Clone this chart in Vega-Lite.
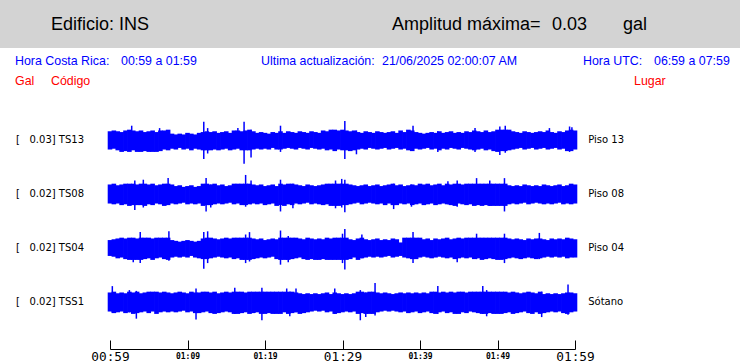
{
"$schema":"https://vega.github.io/schema/vega-lite/v6.json",
"padding":0,
"background":"white",
"config":{"view":{"stroke":null},"title":{"anchor":"start","fontWeight":"normal","frame":"group","font":"Liberation Sans","color":"black","subtitleFont":"Liberation Sans","subtitleColor":"#ff0000","subtitleFontSize":12.4,"subtitlePadding":7.6},"concat":{"spacing":0}},
"datasets":{
"vacio":[],
"trazas":[
{"c":"TS13","e":"[\u00a0\u00a0\u00a00.03] TS13","g":"Piso 13"},
{"c":"TS08","e":"[\u00a0\u00a0\u00a00.02] TS08","g":"Piso 08"},
{"c":"TS04","e":"[\u00a0\u00a0\u00a00.02] TS04","g":"Piso 04"},
{"c":"TSS1","e":"[\u00a0\u00a0\u00a00.02] TSS1","g":"Sótano"},
{"c":"TS13","k":"pico","t":2.8,"h":18,"l":-12},{"c":"TS13","k":"pico","t":6.4,"h":15,"l":-12},{"c":"TS13","k":"pico","t":12.1,"h":23,"l":-24},{"c":"TS13","k":"pico","t":12.6,"h":15,"l":-17},{"c":"TS13","k":"pico","t":16.5,"h":15,"l":-10},{"c":"TS13","k":"pico","t":17.3,"h":23,"l":-30},{"c":"TS13","k":"pico","t":18.2,"h":13,"l":-22},{"c":"TS13","k":"pico","t":22,"h":18,"l":-15},{"c":"TS13","k":"pico","t":30.3,"h":24,"l":-24},{"c":"TS13","k":"pico","t":31.8,"h":12,"l":-18},{"c":"TS13","k":"pico","t":39.1,"h":18,"l":-14},{"c":"TS13","k":"pico","t":42.3,"h":11,"l":-15},{"c":"TS13","k":"pico","t":47.1,"h":15,"l":-15},{"c":"TS13","k":"pico","t":50.3,"h":17,"l":-19},{"c":"TS13","k":"pico","t":51,"h":18,"l":-16},{"c":"TS13","k":"pico","t":56.7,"h":15,"l":-11},{"c":"TS13","k":"pico","t":59.3,"h":17,"l":-15},{"c":"TS13","k":"pico","t":59.6,"h":16,"l":-13},
{"c":"TS08","k":"pico","t":3.2,"h":17,"l":-20},{"c":"TS08","k":"pico","t":4.3,"h":18,"l":-17},{"c":"TS08","k":"pico","t":7.5,"h":20,"l":-14},{"c":"TS08","k":"pico","t":12.4,"h":20,"l":-22},{"c":"TS08","k":"pico","t":13,"h":12,"l":-17},{"c":"TS08","k":"pico","t":17.5,"h":24,"l":-16},{"c":"TS08","k":"pico","t":18.2,"h":17,"l":-13},{"c":"TS08","k":"pico","t":22,"h":18,"l":-22},{"c":"TS08","k":"pico","t":23.6,"h":13,"l":-18},{"c":"TS08","k":"pico","t":29.1,"h":17,"l":-18},{"c":"TS08","k":"pico","t":29.9,"h":19,"l":-17},{"c":"TS08","k":"pico","t":30.3,"h":18,"l":-23},{"c":"TS08","k":"pico","t":36.6,"h":13,"l":-19},{"c":"TS08","k":"pico","t":38.9,"h":12,"l":-16},{"c":"TS08","k":"pico","t":43.6,"h":16,"l":-13},{"c":"TS08","k":"pico","t":44.8,"h":17,"l":-16},{"c":"TS08","k":"pico","t":47.3,"h":20,"l":-14},{"c":"TS08","k":"pico","t":49,"h":17,"l":-15},{"c":"TS08","k":"pico","t":50.9,"h":20,"l":-22},
{"c":"TS04","k":"pico","t":3,"h":12,"l":-18},{"c":"TS04","k":"pico","t":3.9,"h":20,"l":-19},{"c":"TS04","k":"pico","t":7.6,"h":21,"l":-16},{"c":"TS04","k":"pico","t":12.1,"h":20,"l":-26},{"c":"TS04","k":"pico","t":12.6,"h":21,"l":-19},{"c":"TS04","k":"pico","t":17.5,"h":17,"l":-19},{"c":"TS04","k":"pico","t":18,"h":20,"l":-17},{"c":"TS04","k":"pico","t":22,"h":22,"l":-21},{"c":"TS04","k":"pico","t":23,"h":15,"l":-18},{"c":"TS04","k":"pico","t":30,"h":18,"l":-19},{"c":"TS04","k":"pico","t":30.3,"h":24,"l":-27},{"c":"TS04","k":"pico","t":32.5,"h":17,"l":-13},{"c":"TS04","k":"pico","t":39.1,"h":20,"l":-19},{"c":"TS04","k":"pico","t":44.8,"h":12,"l":-18},{"c":"TS04","k":"pico","t":47.3,"h":18,"l":-14},{"c":"TS04","k":"pico","t":50.9,"h":18,"l":-19},{"c":"TS04","k":"pico","t":55.4,"h":19,"l":-14},
{"c":"TSS1","k":"pico","t":0.3,"h":20,"l":-13},{"c":"TSS1","k":"pico","t":2.5,"h":15,"l":-13},{"c":"TSS1","k":"pico","t":3.4,"h":14,"l":-21},{"c":"TSS1","k":"pico","t":11.1,"h":17,"l":-22},{"c":"TSS1","k":"pico","t":16.1,"h":18,"l":-15},{"c":"TSS1","k":"pico","t":19.6,"h":18,"l":-23},{"c":"TSS1","k":"pico","t":22.8,"h":17,"l":-13},{"c":"TSS1","k":"pico","t":23.2,"h":13,"l":-18},{"c":"TSS1","k":"pico","t":24,"h":17,"l":-13},{"c":"TSS1","k":"pico","t":29,"h":17,"l":-15},{"c":"TSS1","k":"pico","t":32.3,"h":15,"l":-23},{"c":"TSS1","k":"pico","t":33,"h":12,"l":-19},{"c":"TSS1","k":"pico","t":34.2,"h":24,"l":-17},{"c":"TSS1","k":"pico","t":42.3,"h":20,"l":-15},{"c":"TSS1","k":"pico","t":48.1,"h":20,"l":-15},{"c":"TSS1","k":"pico","t":48.6,"h":15,"l":-18},{"c":"TSS1","k":"pico","t":55.7,"h":13,"l":-19},{"c":"TSS1","k":"pico","t":59.1,"h":22,"l":-16},
{"c":"TS13","t":0,"h":11,"l":-12},{"c":"TS13","t":0.5,"h":12,"l":-11},{"c":"TS13","t":1,"h":11,"l":-13},{"c":"TS13","t":1.5,"h":10,"l":-15},{"c":"TS13","t":2,"h":12,"l":-14},{"c":"TS13","t":2.5,"h":13,"l":-15},{"c":"TS13","t":3,"h":12,"l":-13},{"c":"TS13","t":3.5,"h":11,"l":-15},{"c":"TS13","t":4,"h":12,"l":-15},{"c":"TS13","t":4.5,"h":10,"l":-14},
{"c":"TS13","t":5,"h":11,"l":-15},{"c":"TS13","t":5.5,"h":12,"l":-15},{"c":"TS13","t":6,"h":10,"l":-15},{"c":"TS13","t":6.5,"h":12,"l":-14},{"c":"TS13","t":7,"h":12,"l":-12},{"c":"TS13","t":7.5,"h":13,"l":-13},{"c":"TS13","t":8,"h":8,"l":-11},{"c":"TS13","t":8.5,"h":7,"l":-12},{"c":"TS13","t":9,"h":8,"l":-10},{"c":"TS13","t":9.5,"h":7,"l":-12},
{"c":"TS13","t":10,"h":9,"l":-11},{"c":"TS13","t":10.5,"h":8,"l":-13},{"c":"TS13","t":11,"h":7,"l":-11},{"c":"TS13","t":11.5,"h":9,"l":-12},{"c":"TS13","t":12,"h":10,"l":-13},{"c":"TS13","t":12.5,"h":11,"l":-13},{"c":"TS13","t":13,"h":10,"l":-13},{"c":"TS13","t":13.5,"h":11,"l":-12},{"c":"TS13","t":14,"h":9,"l":-13},{"c":"TS13","t":14.5,"h":10,"l":-12},
{"c":"TS13","t":15,"h":11,"l":-11},{"c":"TS13","t":15.5,"h":9,"l":-13},{"c":"TS13","t":16,"h":12,"l":-12},{"c":"TS13","t":16.5,"h":12,"l":-11},{"c":"TS13","t":17,"h":11,"l":-13},{"c":"TS13","t":17.5,"h":12,"l":-13},{"c":"TS13","t":18,"h":13,"l":-13},{"c":"TS13","t":18.5,"h":11,"l":-12},{"c":"TS13","t":19,"h":9,"l":-11},{"c":"TS13","t":19.5,"h":10,"l":-12},
{"c":"TS13","t":20,"h":9,"l":-11},{"c":"TS13","t":20.5,"h":8,"l":-12},{"c":"TS13","t":21,"h":10,"l":-10},{"c":"TS13","t":21.5,"h":9,"l":-12},{"c":"TS13","t":22,"h":11,"l":-12},{"c":"TS13","t":22.5,"h":9,"l":-11},{"c":"TS13","t":23,"h":11,"l":-10},{"c":"TS13","t":23.5,"h":10,"l":-11},{"c":"TS13","t":24,"h":9,"l":-12},{"c":"TS13","t":24.5,"h":11,"l":-10},
{"c":"TS13","t":25,"h":10,"l":-11},{"c":"TS13","t":25.5,"h":9,"l":-12},{"c":"TS13","t":26,"h":11,"l":-10},{"c":"TS13","t":26.5,"h":10,"l":-11},{"c":"TS13","t":27,"h":9,"l":-12},{"c":"TS13","t":27.5,"h":12,"l":-11},{"c":"TS13","t":28,"h":11,"l":-13},{"c":"TS13","t":28.5,"h":13,"l":-12},{"c":"TS13","t":29,"h":13,"l":-14},{"c":"TS13","t":29.5,"h":12,"l":-12},
{"c":"TS13","t":30,"h":13,"l":-13},{"c":"TS13","t":30.5,"h":12,"l":-13},{"c":"TS13","t":31,"h":11,"l":-14},{"c":"TS13","t":31.5,"h":12,"l":-13},{"c":"TS13","t":32,"h":10,"l":-12},{"c":"TS13","t":32.5,"h":9,"l":-11},{"c":"TS13","t":33,"h":11,"l":-12},{"c":"TS13","t":33.5,"h":10,"l":-10},{"c":"TS13","t":34,"h":9,"l":-11},{"c":"TS13","t":34.5,"h":11,"l":-12},
{"c":"TS13","t":35,"h":10,"l":-11},{"c":"TS13","t":35.5,"h":9,"l":-10},{"c":"TS13","t":36,"h":10,"l":-12},{"c":"TS13","t":36.5,"h":11,"l":-11},{"c":"TS13","t":37,"h":9,"l":-10},{"c":"TS13","t":37.5,"h":12,"l":-12},{"c":"TS13","t":38,"h":10,"l":-11},{"c":"TS13","t":38.5,"h":13,"l":-13},{"c":"TS13","t":39,"h":12,"l":-14},{"c":"TS13","t":39.5,"h":10,"l":-11},
{"c":"TS13","t":40,"h":9,"l":-12},{"c":"TS13","t":40.5,"h":8,"l":-11},{"c":"TS13","t":41,"h":9,"l":-10},{"c":"TS13","t":41.5,"h":10,"l":-12},{"c":"TS13","t":42,"h":9,"l":-11},{"c":"TS13","t":42.5,"h":11,"l":-13},{"c":"TS13","t":43,"h":9,"l":-11},{"c":"TS13","t":43.5,"h":10,"l":-12},{"c":"TS13","t":44,"h":11,"l":-10},{"c":"TS13","t":44.5,"h":9,"l":-11},
{"c":"TS13","t":45,"h":10,"l":-12},{"c":"TS13","t":45.5,"h":9,"l":-10},{"c":"TS13","t":46,"h":11,"l":-11},{"c":"TS13","t":46.5,"h":10,"l":-12},{"c":"TS13","t":47,"h":12,"l":-13},{"c":"TS13","t":47.5,"h":11,"l":-12},{"c":"TS13","t":48,"h":10,"l":-11},{"c":"TS13","t":48.5,"h":12,"l":-13},{"c":"TS13","t":49,"h":10,"l":-12},{"c":"TS13","t":49.5,"h":11,"l":-14},
{"c":"TS13","t":50,"h":13,"l":-15},{"c":"TS13","t":50.5,"h":13,"l":-14},{"c":"TS13","t":51,"h":13,"l":-14},{"c":"TS13","t":51.5,"h":13,"l":-13},{"c":"TS13","t":52,"h":11,"l":-12},{"c":"TS13","t":52.5,"h":10,"l":-11},{"c":"TS13","t":53,"h":9,"l":-10},{"c":"TS13","t":53.5,"h":11,"l":-12},{"c":"TS13","t":54,"h":10,"l":-11},{"c":"TS13","t":54.5,"h":9,"l":-10},
{"c":"TS13","t":55,"h":10,"l":-12},{"c":"TS13","t":55.5,"h":11,"l":-11},{"c":"TS13","t":56,"h":10,"l":-10},{"c":"TS13","t":56.5,"h":12,"l":-12},{"c":"TS13","t":57,"h":10,"l":-11},{"c":"TS13","t":57.5,"h":9,"l":-10},{"c":"TS13","t":58,"h":11,"l":-12},{"c":"TS13","t":58.5,"h":10,"l":-11},{"c":"TS13","t":59,"h":12,"l":-14},{"c":"TS13","t":59.5,"h":13,"l":-14},
{"c":"TS13","t":60,"h":12,"l":-12},
{"c":"TS08","t":0,"h":12,"l":-12},{"c":"TS08","t":0.5,"h":13,"l":-13},{"c":"TS08","t":1,"h":11,"l":-12},{"c":"TS08","t":1.5,"h":12,"l":-14},{"c":"TS08","t":2,"h":13,"l":-13},{"c":"TS08","t":2.5,"h":13,"l":-15},{"c":"TS08","t":3,"h":13,"l":-14},{"c":"TS08","t":3.5,"h":12,"l":-14},{"c":"TS08","t":4,"h":13,"l":-14},{"c":"TS08","t":4.5,"h":13,"l":-15},
{"c":"TS08","t":5,"h":12,"l":-13},{"c":"TS08","t":5.5,"h":13,"l":-14},{"c":"TS08","t":6,"h":11,"l":-12},{"c":"TS08","t":6.5,"h":12,"l":-13},{"c":"TS08","t":7,"h":13,"l":-15},{"c":"TS08","t":7.5,"h":13,"l":-14},{"c":"TS08","t":8,"h":12,"l":-12},{"c":"TS08","t":8.5,"h":10,"l":-13},{"c":"TS08","t":9,"h":11,"l":-12},{"c":"TS08","t":9.5,"h":9,"l":-11},
{"c":"TS08","t":10,"h":10,"l":-13},{"c":"TS08","t":10.5,"h":11,"l":-12},{"c":"TS08","t":11,"h":9,"l":-13},{"c":"TS08","t":11.5,"h":10,"l":-12},{"c":"TS08","t":12,"h":13,"l":-15},{"c":"TS08","t":12.5,"h":13,"l":-14},{"c":"TS08","t":13,"h":12,"l":-14},{"c":"TS08","t":13.5,"h":13,"l":-13},{"c":"TS08","t":14,"h":11,"l":-12},{"c":"TS08","t":14.5,"h":12,"l":-13},
{"c":"TS08","t":15,"h":10,"l":-12},{"c":"TS08","t":15.5,"h":11,"l":-11},{"c":"TS08","t":16,"h":13,"l":-13},{"c":"TS08","t":16.5,"h":13,"l":-12},{"c":"TS08","t":17,"h":13,"l":-14},{"c":"TS08","t":17.5,"h":13,"l":-14},{"c":"TS08","t":18,"h":13,"l":-13},{"c":"TS08","t":18.5,"h":12,"l":-12},{"c":"TS08","t":19,"h":11,"l":-13},{"c":"TS08","t":19.5,"h":12,"l":-12},
{"c":"TS08","t":20,"h":10,"l":-14},{"c":"TS08","t":20.5,"h":11,"l":-13},{"c":"TS08","t":21,"h":12,"l":-12},{"c":"TS08","t":21.5,"h":10,"l":-15},{"c":"TS08","t":22,"h":13,"l":-14},{"c":"TS08","t":22.5,"h":12,"l":-15},{"c":"TS08","t":23,"h":13,"l":-13},{"c":"TS08","t":23.5,"h":13,"l":-14},{"c":"TS08","t":24,"h":12,"l":-12},{"c":"TS08","t":24.5,"h":11,"l":-13},
{"c":"TS08","t":25,"h":10,"l":-12},{"c":"TS08","t":25.5,"h":12,"l":-11},{"c":"TS08","t":26,"h":11,"l":-13},{"c":"TS08","t":26.5,"h":10,"l":-12},{"c":"TS08","t":27,"h":11,"l":-13},{"c":"TS08","t":27.5,"h":12,"l":-14},{"c":"TS08","t":28,"h":13,"l":-13},{"c":"TS08","t":28.5,"h":13,"l":-15},{"c":"TS08","t":29,"h":13,"l":-15},{"c":"TS08","t":29.5,"h":13,"l":-15},
{"c":"TS08","t":30,"h":13,"l":-14},{"c":"TS08","t":30.5,"h":13,"l":-14},{"c":"TS08","t":31,"h":12,"l":-13},{"c":"TS08","t":31.5,"h":11,"l":-12},{"c":"TS08","t":32,"h":10,"l":-11},{"c":"TS08","t":32.5,"h":11,"l":-13},{"c":"TS08","t":33,"h":12,"l":-12},{"c":"TS08","t":33.5,"h":10,"l":-11},{"c":"TS08","t":34,"h":11,"l":-12},{"c":"TS08","t":34.5,"h":12,"l":-13},
{"c":"TS08","t":35,"h":10,"l":-12},{"c":"TS08","t":35.5,"h":11,"l":-14},{"c":"TS08","t":36,"h":12,"l":-12},{"c":"TS08","t":36.5,"h":13,"l":-14},{"c":"TS08","t":37,"h":11,"l":-14},{"c":"TS08","t":37.5,"h":12,"l":-12},{"c":"TS08","t":38,"h":10,"l":-13},{"c":"TS08","t":38.5,"h":11,"l":-12},{"c":"TS08","t":39,"h":12,"l":-14},{"c":"TS08","t":39.5,"h":11,"l":-13},
{"c":"TS08","t":40,"h":13,"l":-12},{"c":"TS08","t":40.5,"h":12,"l":-14},{"c":"TS08","t":41,"h":13,"l":-13},{"c":"TS08","t":41.5,"h":11,"l":-12},{"c":"TS08","t":42,"h":12,"l":-14},{"c":"TS08","t":42.5,"h":13,"l":-13},{"c":"TS08","t":43,"h":11,"l":-12},{"c":"TS08","t":43.5,"h":13,"l":-13},{"c":"TS08","t":44,"h":12,"l":-14},{"c":"TS08","t":44.5,"h":13,"l":-15},
{"c":"TS08","t":45,"h":13,"l":-12},{"c":"TS08","t":45.5,"h":12,"l":-13},{"c":"TS08","t":46,"h":13,"l":-14},{"c":"TS08","t":46.5,"h":13,"l":-13},{"c":"TS08","t":47,"h":13,"l":-15},{"c":"TS08","t":47.5,"h":13,"l":-14},{"c":"TS08","t":48,"h":13,"l":-15},{"c":"TS08","t":48.5,"h":13,"l":-14},{"c":"TS08","t":49,"h":13,"l":-15},{"c":"TS08","t":49.5,"h":13,"l":-15},
{"c":"TS08","t":50,"h":13,"l":-15},{"c":"TS08","t":50.5,"h":13,"l":-15},{"c":"TS08","t":51,"h":13,"l":-15},{"c":"TS08","t":51.5,"h":11,"l":-13},{"c":"TS08","t":52,"h":10,"l":-12},{"c":"TS08","t":52.5,"h":11,"l":-13},{"c":"TS08","t":53,"h":10,"l":-12},{"c":"TS08","t":53.5,"h":12,"l":-11},{"c":"TS08","t":54,"h":11,"l":-13},{"c":"TS08","t":54.5,"h":10,"l":-12},
{"c":"TS08","t":55,"h":11,"l":-11},{"c":"TS08","t":55.5,"h":10,"l":-12},{"c":"TS08","t":56,"h":12,"l":-13},{"c":"TS08","t":56.5,"h":11,"l":-12},{"c":"TS08","t":57,"h":10,"l":-13},{"c":"TS08","t":57.5,"h":11,"l":-12},{"c":"TS08","t":58,"h":12,"l":-11},{"c":"TS08","t":58.5,"h":10,"l":-13},{"c":"TS08","t":59,"h":11,"l":-12},{"c":"TS08","t":59.5,"h":13,"l":-13},
{"c":"TS08","t":60,"h":12,"l":-12},
{"c":"TS04","t":0,"h":10,"l":-10},{"c":"TS04","t":0.5,"h":11,"l":-11},{"c":"TS04","t":1,"h":12,"l":-13},{"c":"TS04","t":1.5,"h":13,"l":-12},{"c":"TS04","t":2,"h":12,"l":-14},{"c":"TS04","t":2.5,"h":13,"l":-15},{"c":"TS04","t":3,"h":13,"l":-15},{"c":"TS04","t":3.5,"h":12,"l":-15},{"c":"TS04","t":4,"h":13,"l":-15},{"c":"TS04","t":4.5,"h":13,"l":-14},
{"c":"TS04","t":5,"h":13,"l":-13},{"c":"TS04","t":5.5,"h":12,"l":-15},{"c":"TS04","t":6,"h":13,"l":-13},{"c":"TS04","t":6.5,"h":13,"l":-12},{"c":"TS04","t":7,"h":13,"l":-14},{"c":"TS04","t":7.5,"h":13,"l":-15},{"c":"TS04","t":8,"h":10,"l":-12},{"c":"TS04","t":8.5,"h":9,"l":-11},{"c":"TS04","t":9,"h":8,"l":-12},{"c":"TS04","t":9.5,"h":9,"l":-11},
{"c":"TS04","t":10,"h":10,"l":-12},{"c":"TS04","t":10.5,"h":9,"l":-10},{"c":"TS04","t":11,"h":8,"l":-12},{"c":"TS04","t":11.5,"h":9,"l":-13},{"c":"TS04","t":12,"h":12,"l":-14},{"c":"TS04","t":12.5,"h":13,"l":-14},{"c":"TS04","t":13,"h":13,"l":-13},{"c":"TS04","t":13.5,"h":12,"l":-12},{"c":"TS04","t":14,"h":11,"l":-11},{"c":"TS04","t":14.5,"h":12,"l":-12},
{"c":"TS04","t":15,"h":13,"l":-13},{"c":"TS04","t":15.5,"h":12,"l":-12},{"c":"TS04","t":16,"h":13,"l":-14},{"c":"TS04","t":16.5,"h":13,"l":-13},{"c":"TS04","t":17,"h":13,"l":-15},{"c":"TS04","t":17.5,"h":13,"l":-15},{"c":"TS04","t":18,"h":13,"l":-15},{"c":"TS04","t":18.5,"h":12,"l":-14},{"c":"TS04","t":19,"h":11,"l":-13},{"c":"TS04","t":19.5,"h":12,"l":-12},
{"c":"TS04","t":20,"h":10,"l":-13},{"c":"TS04","t":20.5,"h":11,"l":-12},{"c":"TS04","t":21,"h":12,"l":-11},{"c":"TS04","t":21.5,"h":11,"l":-14},{"c":"TS04","t":22,"h":13,"l":-15},{"c":"TS04","t":22.5,"h":13,"l":-15},{"c":"TS04","t":23,"h":13,"l":-15},{"c":"TS04","t":23.5,"h":13,"l":-14},{"c":"TS04","t":24,"h":13,"l":-13},{"c":"TS04","t":24.5,"h":12,"l":-12},
{"c":"TS04","t":25,"h":11,"l":-14},{"c":"TS04","t":25.5,"h":13,"l":-15},{"c":"TS04","t":26,"h":12,"l":-14},{"c":"TS04","t":26.5,"h":11,"l":-15},{"c":"TS04","t":27,"h":12,"l":-15},{"c":"TS04","t":27.5,"h":11,"l":-14},{"c":"TS04","t":28,"h":13,"l":-15},{"c":"TS04","t":28.5,"h":12,"l":-15},{"c":"TS04","t":29,"h":13,"l":-15},{"c":"TS04","t":29.5,"h":13,"l":-15},
{"c":"TS04","t":30,"h":13,"l":-15},{"c":"TS04","t":30.5,"h":13,"l":-15},{"c":"TS04","t":31,"h":11,"l":-14},{"c":"TS04","t":31.5,"h":10,"l":-12},{"c":"TS04","t":32,"h":12,"l":-15},{"c":"TS04","t":32.5,"h":13,"l":-13},{"c":"TS04","t":33,"h":11,"l":-12},{"c":"TS04","t":33.5,"h":10,"l":-11},{"c":"TS04","t":34,"h":11,"l":-12},{"c":"TS04","t":34.5,"h":12,"l":-11},
{"c":"TS04","t":35,"h":10,"l":-12},{"c":"TS04","t":35.5,"h":11,"l":-11},{"c":"TS04","t":36,"h":10,"l":-10},{"c":"TS04","t":36.5,"h":12,"l":-12},{"c":"TS04","t":37,"h":11,"l":-11},{"c":"TS04","t":37.5,"h":7,"l":-10},{"c":"TS04","t":38,"h":13,"l":-12},{"c":"TS04","t":38.5,"h":13,"l":-13},{"c":"TS04","t":39,"h":13,"l":-14},{"c":"TS04","t":39.5,"h":13,"l":-14},
{"c":"TS04","t":40,"h":13,"l":-12},{"c":"TS04","t":40.5,"h":11,"l":-11},{"c":"TS04","t":41,"h":12,"l":-12},{"c":"TS04","t":41.5,"h":10,"l":-13},{"c":"TS04","t":42,"h":12,"l":-12},{"c":"TS04","t":42.5,"h":11,"l":-11},{"c":"TS04","t":43,"h":12,"l":-12},{"c":"TS04","t":43.5,"h":13,"l":-13},{"c":"TS04","t":44,"h":11,"l":-12},{"c":"TS04","t":44.5,"h":12,"l":-14},
{"c":"TS04","t":45,"h":13,"l":-13},{"c":"TS04","t":45.5,"h":12,"l":-12},{"c":"TS04","t":46,"h":13,"l":-13},{"c":"TS04","t":46.5,"h":13,"l":-12},{"c":"TS04","t":47,"h":13,"l":-14},{"c":"TS04","t":47.5,"h":13,"l":-13},{"c":"TS04","t":48,"h":13,"l":-15},{"c":"TS04","t":48.5,"h":13,"l":-14},{"c":"TS04","t":49,"h":13,"l":-13},{"c":"TS04","t":49.5,"h":13,"l":-14},
{"c":"TS04","t":50,"h":13,"l":-15},{"c":"TS04","t":50.5,"h":13,"l":-15},{"c":"TS04","t":51,"h":13,"l":-14},{"c":"TS04","t":51.5,"h":12,"l":-13},{"c":"TS04","t":52,"h":11,"l":-12},{"c":"TS04","t":52.5,"h":12,"l":-13},{"c":"TS04","t":53,"h":11,"l":-14},{"c":"TS04","t":53.5,"h":10,"l":-13},{"c":"TS04","t":54,"h":12,"l":-12},{"c":"TS04","t":54.5,"h":11,"l":-13},
{"c":"TS04","t":55,"h":12,"l":-14},{"c":"TS04","t":55.5,"h":12,"l":-13},{"c":"TS04","t":56,"h":11,"l":-12},{"c":"TS04","t":56.5,"h":10,"l":-11},{"c":"TS04","t":57,"h":12,"l":-12},{"c":"TS04","t":57.5,"h":11,"l":-11},{"c":"TS04","t":58,"h":12,"l":-12},{"c":"TS04","t":58.5,"h":11,"l":-11},{"c":"TS04","t":59,"h":13,"l":-13},{"c":"TS04","t":59.5,"h":12,"l":-12},
{"c":"TS04","t":60,"h":11,"l":-12},
{"c":"TSS1","t":0,"h":12,"l":-12},{"c":"TSS1","t":0.5,"h":13,"l":-14},{"c":"TSS1","t":1,"h":11,"l":-13},{"c":"TSS1","t":1.5,"h":12,"l":-12},{"c":"TSS1","t":2,"h":11,"l":-14},{"c":"TSS1","t":2.5,"h":13,"l":-13},{"c":"TSS1","t":3,"h":12,"l":-15},{"c":"TSS1","t":3.5,"h":13,"l":-14},{"c":"TSS1","t":4,"h":11,"l":-13},{"c":"TSS1","t":4.5,"h":12,"l":-12},
{"c":"TSS1","t":5,"h":13,"l":-14},{"c":"TSS1","t":5.5,"h":13,"l":-12},{"c":"TSS1","t":6,"h":13,"l":-15},{"c":"TSS1","t":6.5,"h":12,"l":-13},{"c":"TSS1","t":7,"h":13,"l":-12},{"c":"TSS1","t":7.5,"h":12,"l":-13},{"c":"TSS1","t":8,"h":11,"l":-12},{"c":"TSS1","t":8.5,"h":12,"l":-13},{"c":"TSS1","t":9,"h":13,"l":-12},{"c":"TSS1","t":9.5,"h":12,"l":-11},
{"c":"TSS1","t":10,"h":11,"l":-13},{"c":"TSS1","t":10.5,"h":13,"l":-12},{"c":"TSS1","t":11,"h":12,"l":-14},{"c":"TSS1","t":11.5,"h":12,"l":-14},{"c":"TSS1","t":12,"h":13,"l":-13},{"c":"TSS1","t":12.5,"h":13,"l":-12},{"c":"TSS1","t":13,"h":12,"l":-14},{"c":"TSS1","t":13.5,"h":13,"l":-15},{"c":"TSS1","t":14,"h":11,"l":-14},{"c":"TSS1","t":14.5,"h":12,"l":-13},
{"c":"TSS1","t":15,"h":13,"l":-12},{"c":"TSS1","t":15.5,"h":12,"l":-13},{"c":"TSS1","t":16,"h":13,"l":-15},{"c":"TSS1","t":16.5,"h":13,"l":-15},{"c":"TSS1","t":17,"h":13,"l":-14},{"c":"TSS1","t":17.5,"h":12,"l":-13},{"c":"TSS1","t":18,"h":13,"l":-15},{"c":"TSS1","t":18.5,"h":13,"l":-14},{"c":"TSS1","t":19,"h":13,"l":-13},{"c":"TSS1","t":19.5,"h":13,"l":-15},
{"c":"TSS1","t":20,"h":13,"l":-15},{"c":"TSS1","t":20.5,"h":13,"l":-14},{"c":"TSS1","t":21,"h":13,"l":-15},{"c":"TSS1","t":21.5,"h":13,"l":-15},{"c":"TSS1","t":22,"h":13,"l":-15},{"c":"TSS1","t":22.5,"h":13,"l":-13},{"c":"TSS1","t":23,"h":13,"l":-15},{"c":"TSS1","t":23.5,"h":13,"l":-14},{"c":"TSS1","t":24,"h":12,"l":-13},{"c":"TSS1","t":24.5,"h":11,"l":-15},
{"c":"TSS1","t":25,"h":10,"l":-14},{"c":"TSS1","t":25.5,"h":11,"l":-13},{"c":"TSS1","t":26,"h":10,"l":-12},{"c":"TSS1","t":26.5,"h":11,"l":-11},{"c":"TSS1","t":27,"h":10,"l":-12},{"c":"TSS1","t":27.5,"h":11,"l":-11},{"c":"TSS1","t":28,"h":12,"l":-13},{"c":"TSS1","t":28.5,"h":10,"l":-12},{"c":"TSS1","t":29,"h":12,"l":-15},{"c":"TSS1","t":29.5,"h":11,"l":-14},
{"c":"TSS1","t":30,"h":10,"l":-13},{"c":"TSS1","t":30.5,"h":11,"l":-12},{"c":"TSS1","t":31,"h":10,"l":-13},{"c":"TSS1","t":31.5,"h":11,"l":-12},{"c":"TSS1","t":32,"h":13,"l":-15},{"c":"TSS1","t":32.5,"h":13,"l":-14},{"c":"TSS1","t":33,"h":12,"l":-15},{"c":"TSS1","t":33.5,"h":13,"l":-15},{"c":"TSS1","t":34,"h":13,"l":-15},{"c":"TSS1","t":34.5,"h":12,"l":-13},
{"c":"TSS1","t":35,"h":11,"l":-12},{"c":"TSS1","t":35.5,"h":12,"l":-11},{"c":"TSS1","t":36,"h":11,"l":-12},{"c":"TSS1","t":36.5,"h":10,"l":-11},{"c":"TSS1","t":37,"h":11,"l":-12},{"c":"TSS1","t":37.5,"h":12,"l":-13},{"c":"TSS1","t":38,"h":11,"l":-12},{"c":"TSS1","t":38.5,"h":12,"l":-14},{"c":"TSS1","t":39,"h":11,"l":-13},{"c":"TSS1","t":39.5,"h":12,"l":-12},
{"c":"TSS1","t":40,"h":11,"l":-14},{"c":"TSS1","t":40.5,"h":12,"l":-13},{"c":"TSS1","t":41,"h":11,"l":-12},{"c":"TSS1","t":41.5,"h":13,"l":-14},{"c":"TSS1","t":42,"h":13,"l":-15},{"c":"TSS1","t":42.5,"h":12,"l":-13},{"c":"TSS1","t":43,"h":13,"l":-12},{"c":"TSS1","t":43.5,"h":12,"l":-14},{"c":"TSS1","t":44,"h":13,"l":-13},{"c":"TSS1","t":44.5,"h":12,"l":-15},
{"c":"TSS1","t":45,"h":13,"l":-15},{"c":"TSS1","t":45.5,"h":13,"l":-13},{"c":"TSS1","t":46,"h":12,"l":-14},{"c":"TSS1","t":46.5,"h":13,"l":-12},{"c":"TSS1","t":47,"h":13,"l":-13},{"c":"TSS1","t":47.5,"h":13,"l":-14},{"c":"TSS1","t":48,"h":13,"l":-15},{"c":"TSS1","t":48.5,"h":13,"l":-15},{"c":"TSS1","t":49,"h":13,"l":-14},{"c":"TSS1","t":49.5,"h":13,"l":-15},
{"c":"TSS1","t":50,"h":13,"l":-15},{"c":"TSS1","t":50.5,"h":13,"l":-15},{"c":"TSS1","t":51,"h":13,"l":-14},{"c":"TSS1","t":51.5,"h":12,"l":-13},{"c":"TSS1","t":52,"h":13,"l":-15},{"c":"TSS1","t":52.5,"h":12,"l":-14},{"c":"TSS1","t":53,"h":11,"l":-13},{"c":"TSS1","t":53.5,"h":12,"l":-12},{"c":"TSS1","t":54,"h":13,"l":-14},{"c":"TSS1","t":54.5,"h":12,"l":-15},
{"c":"TSS1","t":55,"h":11,"l":-13},{"c":"TSS1","t":55.5,"h":13,"l":-15},{"c":"TSS1","t":56,"h":10,"l":-14},{"c":"TSS1","t":56.5,"h":11,"l":-13},{"c":"TSS1","t":57,"h":10,"l":-12},{"c":"TSS1","t":57.5,"h":11,"l":-13},{"c":"TSS1","t":58,"h":10,"l":-12},{"c":"TSS1","t":58.5,"h":11,"l":-14},{"c":"TSS1","t":59,"h":12,"l":-15},{"c":"TSS1","t":59.5,"h":12,"l":-13},
{"c":"TSS1","t":60,"h":11,"l":-12}
]},
"spacing":0,
"vconcat":[
{"spacing":0,"bounds":"flush","hconcat":[
{"width":392,"height":48,"view":{"fill":"#d3d3d3","stroke":null},"data":{"name":"vacio"},"mark":"point","title":{"text":"Edificio: INS","dx":51,"offset":-34,"fontSize":18}},
{"width":160,"height":48,"view":{"fill":"#d3d3d3","stroke":null},"data":{"name":"vacio"},"mark":"point","title":{"text":"Amplitud máxima=","offset":-34,"fontSize":18}},
{"width":71,"height":48,"view":{"fill":"#d3d3d3","stroke":null},"data":{"name":"vacio"},"mark":"point","title":{"text":"0.03","offset":-34,"fontSize":18}},
{"width":117,"height":48,"view":{"fill":"#d3d3d3","stroke":null},"data":{"name":"vacio"},"mark":"point","title":{"text":"gal","offset":-34,"fontSize":18}}
]},
{"spacing":0,"bounds":"flush","hconcat":[
{"width":51,"height":65,"data":{"name":"vacio"},"mark":"point","title":{"text":"Hora Costa Rica:","subtitle":"Gal","dx":15,"offset":-39.2,"fontSize":12.4,"color":"#0000ff"}},
{"width":70,"height":65,"data":{"name":"vacio"},"mark":"point","title":{"text":"\u00a0","subtitle":"Código","offset":-39.2,"fontSize":12.4,"color":"#0000ff"}},
{"width":140,"height":65,"data":{"name":"vacio"},"mark":"point","title":{"text":"00:59 a 01:59","subtitle":"\u00a0","offset":-39.2,"fontSize":12.4,"color":"#0000ff"}},
{"width":121,"height":65,"data":{"name":"vacio"},"mark":"point","title":{"text":"Ultima actualización:","subtitle":"\u00a0","offset":-39.2,"fontSize":12.4,"color":"#0000ff"}},
{"width":201,"height":65,"data":{"name":"vacio"},"mark":"point","title":{"text":"21/06/2025 02:00:07 AM","subtitle":"\u00a0","offset":-39.2,"fontSize":12.4,"color":"#0000ff"}},
{"width":51,"height":65,"data":{"name":"vacio"},"mark":"point","title":{"text":"Hora UTC:","subtitle":"\u00a0","offset":-39.2,"fontSize":12.4,"color":"#0000ff"}},
{"width":20,"height":65,"data":{"name":"vacio"},"mark":"point","title":{"text":"\u00a0","subtitle":"Lugar","offset":-39.2,"fontSize":12.4,"color":"#0000ff"}},
{"width":86,"height":65,"data":{"name":"vacio"},"mark":"point","title":{"text":"06:59 a 07:59","subtitle":"\u00a0","offset":-39.2,"fontSize":12.4,"color":"#0000ff"}}
]},
{"spacing":0,"bounds":"flush","hconcat":[
{"width":110,"height":216,"data":{"name":"vacio"},"mark":"point"},
{"data":{"name":"trazas"},
 "spacing":0,"bounds":"flush",
 "facet":{"row":{"field":"c","type":"nominal","sort":["TS13","TS08","TS04","TSS1"],"title":null,"header":{"labels":false,"title":null}}},
 "spec":{"width":465,"height":54,"layer":[
  {"transform":[{"filter":"isValid(datum.t) && datum.k != 'pico'"}],
   "mark":{"type":"rule","color":"#0000ff","strokeWidth":4.6},
   "encoding":{
    "x":{"field":"t","type":"quantitative","scale":{"domain":[0,60],"nice":false,"zero":false},
      "axis":{"title":null,"values":[0,5,10,15,20,25,30,35,40,45,50,55,60],"grid":false,"offset":20,"tickSize":-9,"tickColor":"black","domainColor":"black","labelColor":"black","labelFont":"DejaVu Sans Mono",
        "labelFontSize":{"condition":{"test":"datum.value % 30 == 0","value":12.8},"value":8},
        "labelFontWeight":{"condition":{"test":"datum.value % 30 == 0","value":"normal"},"value":"bold"},
        "labelBaseline":"middle","labelPadding":16,"labelFlush":false,"labelOverlap":false,"labelBound":false,
        "labelExpr":"datum.value % 10 != 0 ? '' : '0' + floor((59 + datum.value) / 60) + ':' + ((59 + datum.value) % 60 < 10 ? '0' : '') + ((59 + datum.value) % 60)"}},
    "y":{"field":"l","type":"quantitative","scale":{"domain":[-34,34],"nice":false,"zero":false},"axis":null},
    "y2":{"field":"h"}}},
  {"transform":[{"filter":"datum.k == 'pico'"}],
   "mark":{"type":"rule","color":"#0000ff","strokeWidth":1.5},
   "encoding":{"x":{"field":"t","type":"quantitative"},"y":{"field":"l","type":"quantitative"},"y2":{"field":"h"}}},
  {"transform":[{"filter":"isValid(datum.e)"}],
   "mark":{"type":"text","align":"right","baseline":"middle","font":"DejaVu Sans","fontSize":10,"color":"black"},
   "encoding":{"x":{"datum":-3.35},"y":{"datum":0},"text":{"field":"e"}}},
  {"transform":[{"filter":"isValid(datum.e)"}],
   "mark":{"type":"text","align":"left","baseline":"middle","font":"DejaVu Sans","fontSize":10,"color":"black"},
   "encoding":{"x":{"datum":61.7},"y":{"datum":0},"text":{"field":"g"}}}
 ]}}
]}
]
}
